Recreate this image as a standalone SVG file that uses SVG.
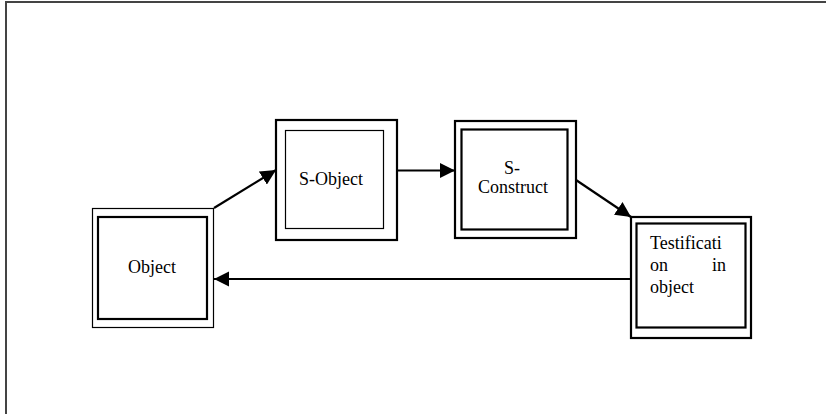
<svg xmlns="http://www.w3.org/2000/svg" width="826" height="414" viewBox="0 0 826 414">
  <style>
    .frame { fill: none; stroke: #444; stroke-width: 2; }
    .box { fill: #fff; stroke: #000; }
    .thin { stroke-width: 1.2; }
    .thick { stroke-width: 2.2; }
    .edge { fill: none; stroke: #000; stroke-width: 2.2; marker-end: url(#arrow); }
    text { font-family: "Liberation Serif", "Times New Roman", serif; font-size: 18px; fill: #000; }
  </style>
  <defs>
    <marker id="arrow" viewBox="0 0 10 10" refX="10" refY="5" markerWidth="7" markerHeight="7" markerUnits="strokeWidth" orient="auto">
      <path d="M0,0 L10,5 L0,10 z" fill="#000"/>
    </marker>
  </defs>

  <rect width="826" height="414" fill="#fff"/>
  <path class="frame" d="M6,414 V2 H826"/>

  <g id="connectors">
    <line class="edge" x1="214" y1="208" x2="276" y2="170"/>
    <line class="edge" x1="397" y1="170.5" x2="455" y2="170.5"/>
    <line class="edge" x1="576" y1="180" x2="631" y2="217"/>
    <line class="edge" x1="631" y1="279" x2="214" y2="279"/>
  </g>

  <g id="object">
    <rect class="box thin" x="92.5" y="208.5" width="121" height="119"/>
    <rect class="box thick" x="98" y="217" width="109" height="102"/>
    <text x="152" y="273" text-anchor="middle">Object</text>
  </g>

  <g id="s-object">
    <rect class="box thick" x="276" y="120" width="121" height="120"/>
    <rect class="box thin" x="285.5" y="130.5" width="98" height="98"/>
    <text x="331" y="185" text-anchor="middle">S-Object</text>
  </g>

  <g id="s-construct">
    <rect class="box thick" x="455" y="121" width="121" height="117"/>
    <rect class="box thick" x="461.5" y="129.5" width="106" height="100"/>
    <text x="504" y="174">S-</text>
    <text x="478" y="193">Construct</text>
  </g>

  <g id="testification">
    <rect class="box thick" x="631" y="217" width="120" height="121"/>
    <rect class="box thick" x="636.5" y="223.5" width="109" height="104"/>
    <text x="650" y="249">Testificati</text>
    <text x="650" y="271">on</text>
    <text x="726" y="271" text-anchor="end">in</text>
    <text x="650" y="293">object</text>
  </g>
</svg>
